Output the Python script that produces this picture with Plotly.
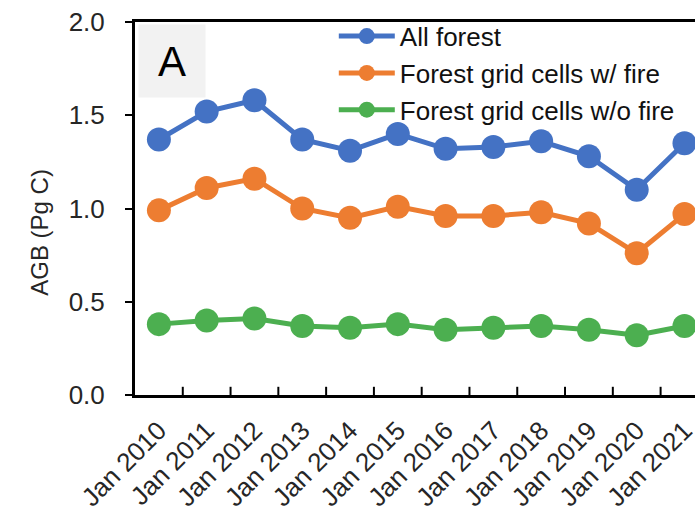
import plotly.graph_objects as go

years = ["Jan 2010", "Jan 2011", "Jan 2012", "Jan 2013", "Jan 2014", "Jan 2015",
         "Jan 2016", "Jan 2017", "Jan 2018", "Jan 2019", "Jan 2020", "Jan 2021"]
all_forest = [1.37, 1.52, 1.58, 1.37, 1.31, 1.40, 1.32, 1.33, 1.36, 1.28, 1.10, 1.35]
with_fire = [0.99, 1.11, 1.16, 1.00, 0.95, 1.01, 0.96, 0.96, 0.98, 0.92, 0.76, 0.97]
without_fire = [0.38, 0.40, 0.41, 0.37, 0.36, 0.38, 0.35, 0.36, 0.37, 0.35, 0.32, 0.37]

series = [
    ("All forest", all_forest, "#4472C4"),
    ("Forest grid cells w/ fire", with_fire, "#ED7D31"),
    ("Forest grid cells w/o fire", without_fire, "#4CAF50"),
]

fig = go.Figure()
for name, vals, col in series:
    fig.add_trace(go.Scatter(
        x=list(range(len(years))), y=vals, name=name, mode="lines+markers",
        line=dict(color=col, width=5),
        marker=dict(color=col, size=24),
        cliponaxis=True,
    ))

font = "Liberation Sans, Arial, sans-serif"
fig.update_layout(
    width=695, height=522,
    margin=dict(l=135, r=0, t=22, b=127, autoexpand=False),
    paper_bgcolor="white", plot_bgcolor="white",
    font=dict(family=font, color="#262626"),
    showlegend=True,
    legend=dict(x=0.355, y=1.025, xanchor="left", yanchor="top",
                bgcolor="rgba(0,0,0,0)", font=dict(size=26, color="#111"),
                tracegroupgap=0, itemwidth=56),
    xaxis=dict(
        range=[-0.5, 11.22], automargin=False,
        tickmode="array", tickvals=list(range(len(years))), ticktext=years,
        tickangle=-45, tickfont=dict(size=26), ticklabelstandoff=7,
        ticklabeloverflow="allow",
        showline=True, linecolor="black", linewidth=3, mirror=True,
        showgrid=False, zeroline=False,
        ticks="",
    ),
    yaxis=dict(
        range=[0, 2.0], dtick=0.5, tickformat=".1f", automargin=False,
        tickfont=dict(size=26), ticklabelstandoff=15,
        showline=True, linecolor="black", linewidth=3,
        ticks="outside", ticklen=7, tickwidth=2, tickcolor="black",
        showgrid=False, zeroline=False,
    ),
)

# tick marks between categories (inside)
for i in range(len(years)):
    fig.add_shape(type="line", xref="x", yref="paper",
                  x0=i + 0.5, x1=i + 0.5, y0=0, y1=0.022,
                  line=dict(color="black", width=2))

# y-axis title
fig.add_annotation(text="AGB (Pg C)", xref="paper", yref="paper",
                   x=-0.17, y=0.437, textangle=-90, showarrow=False,
                   xanchor="center", yanchor="middle",
                   font=dict(size=24, color="#262626", family=font))

fig.add_annotation(text="A", xref="paper", yref="paper", x=0.005, y=0.995,
                   xanchor="left", yanchor="top", showarrow=False,
                   font=dict(size=42, color="black", family=font),
                   bgcolor="#F2F2F2", width=64, height=70)

fig.write_html("out.html", post_script="document.body.style.margin='0';",
               config={"displayModeBar": False})
